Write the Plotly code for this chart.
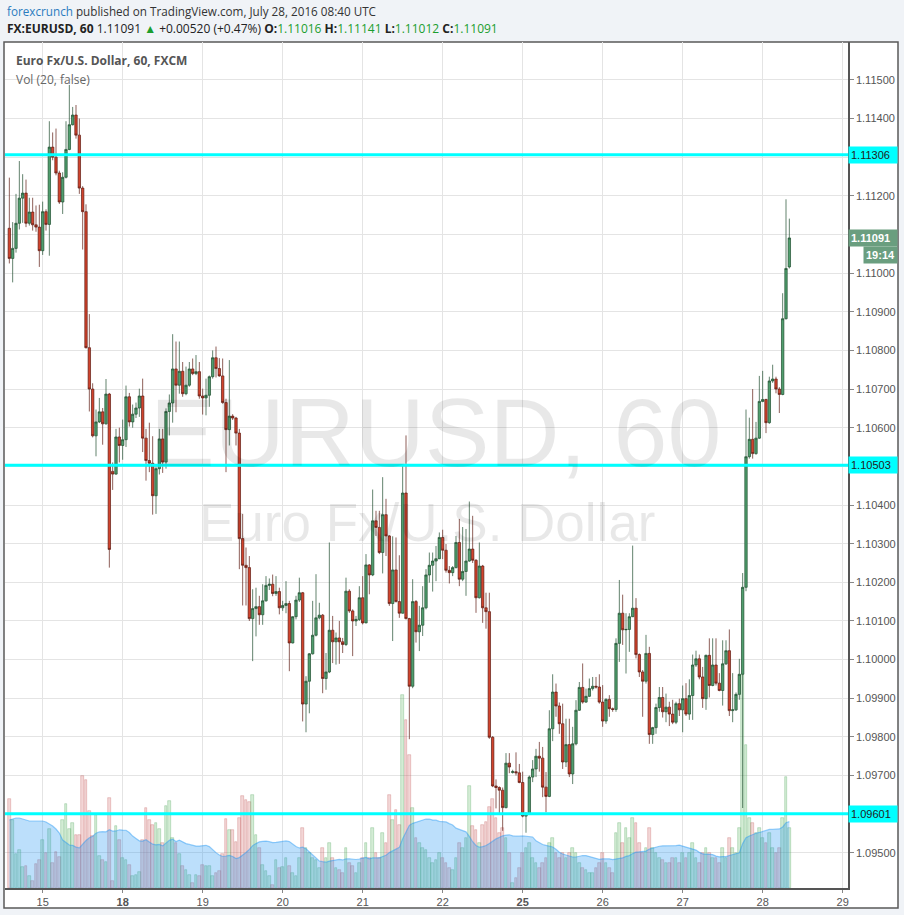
import plotly.graph_objects as go
from datetime import datetime, timedelta

# ---------------- data (EURUSD 60-minute, FXCM) ----------------
# prices are stored as pips above 1.10000
BASE = 1.10000
open_pips = [
    111.6, 103.8, 106.4, 112.9, 119.4, 120.7, 112.9, 115.8, 112.5, 111.9,
    105.8, 115.9, 112.6, 132.6, 130.0, 125.9, 118.4, 124.8, 132.0, 138.4,
    140.9, 135.7, 122.0, 115.9, 80.7, 70.0, 57.9, 61.5, 64.1, 61.0,
    68.7, 48.7, 48.0, 57.6, 55.4, 56.9, 68.0, 61.5, 63.5, 65.1,
    68.2, 57.3, 51.5, 50.8, 42.4, 49.4, 57.1, 51.1, 64.2, 66.4,
    75.2, 71.0, 74.6, 68.8, 71.0, 75.2, 74.0, 74.5, 68.2, 67.7,
    68.4, 73.2, 78.1, 75.3, 73.4, 66.5, 59.5, 63.0, 62.5, 58.6,
    31.3, 24.4, 23.8, 10.6, 13.2, 13.7, 11.6, 15.2, 19.2, 19.5,
    17.1, 17.6, 13.4, 14.0, 14.5, 4.3, 11.1, 15.4, 17.3, -11.5,
    -5.6, 1.5, 6.3, 10.8, 11.5, -4.9, -3.2, 7.6, 4.6, 5.6,
    4.6, 3.9, 17.7, 12.6, 10.0, 10.4, 16.0, 9.5, 24.5, 21.9,
    35.9, 34.2, 27.7, 37.5, 32.0, 14.5, 23.2, 15.0, 12.0, 43.1,
    10.6, -6.9, 15.0, 7.2, 8.9, 13.4, 21.9, 24.4, 25.5, 26.1,
    31.6, 28.3, 23.1, 22.5, 23.8, 30.3, 20.8, 22.8, 25.5, 28.6,
    25.7, 16.0, 24.2, 13.4, 12.4, -20.1, -32.7, -33.1, -33.8, -38.3,
    -26.8, -29.2, -29.0, -29.3, -31.8, -40.5, -39.8, -30.4, -28.3, -25.0,
    -25.5, -33.0, -35.4, -17.9, -8.4, -12.0, -16.6, -26.5, -22.0, -29.6,
    -21.8, -13.1, -7.2, -11.0, -9.5, -7.5, -6.9, -7.1, -11.0, -15.9,
    -10.3, -12.7, -12.9, 4.2, 12.0, 7.7, 7.8, 11.1, 13.3, 1.3,
    -3.2, -5.6, 1.6, -19.4, -17.6, -12.4, -9.8, -13.5, -12.3, -14.1,
    -16.2, -11.4, -13.0, -10.1, -14.1, -9.3, -1.4, 0.2, -4.5, -10.1,
    1.1, -6.7, -1.4, -6.1, -8.0, -1.1, 2.3, -13.2, -13.0, -9.0,
    -3.8, 18.7, 52.5, 57.0, 53.3, 57.3, 66.8, 67.3, 61.3, 72.1,
    72.6, 70.0, 68.6, 88.2, 101.6,
]
high_pips = [
    124.7, 113.2, 120.5, 129.0, 125.6, 124.2, 119.5, 119.5, 117.5, 117.7,
    118.5, 116.5, 139.3, 136.4, 137.4, 126.5, 126.1, 139.3, 148.7, 143.0,
    143.5, 140.0, 122.5, 117.8, 89.4, 71.5, 64.7, 67.7, 65.1, 72.6,
    69.0, 51.0, 59.7, 60.0, 62.1, 70.9, 69.0, 66.0, 66.5, 70.1,
    72.7, 59.7, 61.3, 57.8, 50.0, 59.7, 59.7, 65.0, 68.6, 84.2,
    82.3, 82.3, 77.0, 75.8, 77.0, 77.9, 78.8, 77.0, 70.1, 72.7,
    73.5, 80.0, 81.0, 78.0, 77.9, 67.5, 77.5, 63.5, 62.8, 59.7,
    37.7, 29.0, 26.8, 18.2, 18.6, 16.5, 19.5, 21.6, 21.0, 22.0,
    21.6, 18.6, 15.2, 20.3, 15.2, 11.2, 16.5, 21.2, 17.5, -4.3,
    1.7, 15.2, 22.1, 14.7, 11.8, 1.7, 30.3, 11.3, 7.0, 10.0,
    5.6, 21.2, 18.2, 13.0, 11.3, 19.0, 21.6, 27.3, 24.7, 44.0,
    38.5, 38.5, 47.2, 41.6, 32.2, 31.9, 31.6, 27.0, 50.2, 58.0,
    10.8, 20.8, 15.4, 13.9, 19.0, 23.4, 27.7, 27.7, 29.4, 32.9,
    33.6, 29.9, 24.2, 24.2, 32.0, 36.4, 34.3, 33.8, 40.9, 37.2,
    26.0, 30.3, 24.5, 17.3, 17.3, -19.8, -31.0, -32.8, -33.1, -24.2,
    -24.2, -28.5, -24.0, -27.0, -29.0, -39.5, -30.0, -26.0, -23.1, -21.3,
    -22.6, -29.1, -13.1, -3.8, -6.2, -11.1, -11.4, -15.3, -15.3, -17.4,
    -10.5, -5.8, -1.0, -7.5, -4.9, -4.5, -4.5, -3.8, -6.6, -10.0,
    -9.2, -12.4, 5.5, 20.6, 16.8, 12.0, 12.0, 29.5, 15.9, 1.6,
    -2.7, 6.4, 3.3, -17.4, -11.4, -7.1, -7.1, -8.8, -10.9, -10.4,
    -10.9, -10.1, -6.7, -6.1, -5.1, 1.3, 2.3, 1.3, -1.9, 1.3,
    5.5, 5.5, 5.5, -3.5, 5.0, 5.0, 7.8, -3.5, -8.5, 0.2,
    22.4, 64.7, 62.6, 70.0, 61.5, 73.4, 74.7, 67.5, 73.2, 76.3,
    73.2, 70.5, 94.8, 119.1, 114.1,
]
low_pips = [
    102.5, 97.6, 105.3, 111.3, 113.0, 111.9, 112.3, 111.0, 110.7, 101.6,
    104.7, 111.0, 104.5, 129.2, 125.3, 117.9, 115.3, 124.5, 131.8, 138.2,
    134.8, 120.5, 106.1, 80.5, 64.2, 57.5, 52.6, 61.2, 55.6, 60.8,
    23.8, 43.9, 47.8, 51.0, 51.7, 55.0, 60.3, 60.0, 62.5, 62.8,
    53.7, 46.3, 48.5, 37.5, 37.7, 47.9, 48.3, 49.4, 58.0, 61.3,
    64.0, 68.8, 68.0, 68.4, 70.6, 73.6, 73.6, 67.5, 63.4, 63.2,
    65.4, 72.7, 73.0, 73.2, 66.2, 48.5, 55.4, 62.0, 55.4, 23.4,
    14.0, 14.0, 10.0, -0.4, 6.0, 9.0, 9.0, 15.0, 18.0, 16.4,
    16.5, 11.7, 12.6, 12.0, -3.0, 4.2, 10.4, 14.9, -16.0, -18.8,
    -13.9, 1.3, 6.0, 10.4, -8.7, -7.8, -3.5, -0.9, -1.3, -1.1,
    1.7, 3.5, 12.1, 0.9, 8.7, 10.0, 9.1, 9.4, 16.9, 21.6,
    32.0, 27.3, 22.3, 26.8, 13.9, 4.8, 14.8, 10.8, 11.9, 10.4,
    -20.6, -7.4, 4.4, 2.2, 6.1, 13.0, 19.9, 17.6, 20.3, 26.0,
    26.0, 22.5, 19.7, 21.6, 23.6, 19.0, 20.3, 16.5, 25.3, 25.0,
    12.1, 15.8, 9.5, 8.0, -20.5, -33.0, -38.5, -39.7, -44.3, -38.5,
    -29.4, -29.5, -30.0, -32.0, -40.8, -44.8, -40.0, -31.7, -30.4, -29.0,
    -35.6, -39.5, -35.6, -21.1, -14.8, -19.2, -28.3, -27.8, -30.4, -32.2,
    -22.2, -13.3, -11.4, -11.2, -9.7, -8.0, -7.5, -11.4, -17.4, -16.6,
    -14.8, -13.5, -13.5, -0.6, 3.8, -3.6, 2.0, 11.0, 0.3, -4.5,
    -14.8, -6.2, -21.8, -21.8, -19.2, -13.5, -15.0, -16.2, -17.2, -16.7,
    -16.7, -14.6, -18.8, -14.6, -15.6, -15.6, -1.9, -5.1, -12.5, -13.0,
    -9.8, -6.9, -6.7, -8.2, -11.9, -1.4, -14.6, -16.2, -13.3, -10.4,
    -38.4, 17.7, 52.0, 52.0, 53.0, 57.1, 66.6, 58.6, 61.0, 71.6,
    68.9, 63.8, 68.4, 88.0, 101.2,
]
close_pips = [
    103.8, 106.4, 112.9, 119.4, 120.7, 112.9, 115.8, 112.5, 111.9, 105.8,
    115.9, 112.6, 132.6, 130.0, 125.9, 118.4, 124.8, 132.0, 138.4, 140.9,
    135.7, 122.0, 115.9, 80.7, 70.0, 57.9, 61.5, 64.1, 61.0, 68.7,
    28.5, 48.0, 57.6, 55.4, 56.9, 68.0, 61.5, 63.5, 65.1, 68.2,
    57.3, 51.5, 50.8, 42.4, 49.4, 57.1, 51.1, 64.2, 66.4, 75.2,
    71.0, 74.6, 68.8, 71.0, 75.2, 74.0, 74.5, 68.2, 67.7, 68.4,
    73.2, 78.1, 75.3, 73.4, 66.5, 59.5, 63.0, 62.5, 58.6, 31.3,
    24.4, 23.8, 10.6, 13.2, 13.7, 11.6, 15.2, 19.2, 19.5, 17.1,
    17.6, 13.4, 14.0, 14.5, 4.3, 11.1, 15.4, 17.3, -11.5, -5.6,
    1.5, 6.3, 10.8, 11.5, -4.9, -3.2, 7.6, 4.6, 5.6, 4.6,
    3.9, 17.7, 12.6, 10.0, 10.4, 16.0, 9.5, 24.5, 21.9, 35.9,
    34.2, 27.7, 37.5, 32.0, 14.5, 23.2, 15.0, 12.0, 43.1, 10.6,
    -6.9, 15.0, 7.2, 8.9, 13.4, 21.9, 24.4, 25.5, 26.1, 31.6,
    28.3, 23.1, 22.5, 23.8, 30.3, 20.8, 22.8, 25.5, 28.6, 25.7,
    16.0, 24.2, 13.4, 12.4, -20.1, -32.7, -33.1, -33.8, -38.3, -26.8,
    -27.8, -29.0, -29.3, -31.8, -40.5, -39.8, -30.4, -28.3, -25.0, -25.5,
    -33.0, -35.4, -17.9, -8.4, -12.0, -16.6, -26.5, -22.0, -29.6, -21.8,
    -13.1, -7.2, -11.0, -9.5, -7.5, -6.9, -7.1, -11.0, -15.9, -10.3,
    -12.7, -12.9, 4.2, 12.0, 7.7, 7.8, 11.1, 13.3, 1.3, -3.2,
    -5.6, 1.6, -19.4, -17.6, -12.4, -9.8, -13.5, -12.3, -14.1, -16.2,
    -11.4, -13.0, -10.1, -14.1, -9.3, -1.4, 0.2, -4.5, -10.1, 1.1,
    -6.7, -1.4, -6.1, -8.0, -1.1, 2.3, -13.2, -13.0, -9.0, -3.8,
    18.7, 52.5, 57.0, 53.3, 57.3, 66.8, 67.3, 61.3, 72.1, 72.6,
    70.0, 68.6, 88.2, 101.2, 109.1,
]
# volume (relative units) for each hourly bar
volume = [
    89, 68, 34, 38, 21, 22, 12, 7, 24, 28,
    48, 35, 59, 25, 36, 31, 68, 84, 59, 65,
    53, 53, 112, 108, 77, 52, 73, 32, 28, 26,
    90, 7, 62, 48, 30, 28, 23, 12, 13, 16,
    48, 80, 68, 63, 65, 59, 45, 82, 87, 50,
    45, 34, 22, 18, 13, 5, 13, 12, 23, 22,
    22, 12, 15, 17, 34, 69, 58, 58, 46, 70,
    92, 88, 86, 93, 53, 40, 23, 17, 12, 3,
    28, 20, 21, 30, 22, 15, 12,
    30, 60, 40, 35, 30, 28, 20, 40, 30, 45, 30, 20, 18, 15, 40, 25, 22, 15, 25, 30, 45, 30, 60, 35, 30,
    55, 45, 93, 68, 78, 63, 193, 168, 133, 80, 50,
    45, 40, 38, 30, 25, 28, 35, 30, 25, 20, 18, 30, 45, 40, 50,
    102, 62, 58, 45, 63, 66, 81, 89, 70, 55, 60, 50, 35,
    5, 10, 20, 35, 40, 45, 30, 25, 20, 25, 30, 45, 50, 35, 30, 35, 30, 35, 40, 35,
    25, 20, 18, 15, 15, 20, 25, 35, 25, 20, 15,
    55, 65, 45, 60, 50, 70, 65, 45, 35, 40, 60, 40, 35, 30,
    28, 25, 25, 30, 30, 25, 35, 30, 35, 45, 30, 25, 35, 40, 35, 30, 30, 25, 40, 30, 50, 40, 35, 60,
    213, 143, 70, 65, 55, 60, 50, 45, 55, 40, 35, 40, 70, 111, 60,
]
# 20-bar volume average for the first bars (its window starts before the chart)
vol_ma_head = [68, 69, 70, 70, 69, 68, 67, 67, 67, 67, 67, 66, 64, 62, 59, 55, 48, 45, 43]
MA_LEN = 20

levels = [1.11306, 1.10503, 1.09601]
header_change = "+0.00520 (+0.47%)"
countdown = "19:14"

n = len(close_pips)
assert len(open_pips) == n and len(high_pips) == n and len(low_pips) == n and len(volume) == n, \
    (len(open_pips), len(high_pips), len(low_pips), len(close_pips), len(volume))

def to_price(p):
    return round(BASE + p / 10000.0, 5)

O = [to_price(v) for v in open_pips]
H = [to_price(v) for v in high_pips]
L = [to_price(v) for v in low_pips]
C = [to_price(v) for v in close_pips]

# hourly trading timestamps (FX market closed Fri 21:00 -> Sun 21:00 UTC)
def trading_hours(start, count):
    out, t = [], start
    while len(out) < count:
        wd, h = t.weekday(), t.hour
        closed = (wd == 4 and h >= 21) or wd == 5 or (wd == 6 and h < 21)
        if not closed:
            out.append(t)
        t += timedelta(hours=1)
    return out

times = trading_hours(datetime(2016, 7, 14, 14), n)
idx = list(range(n))
tick_idx = [i for i, t in enumerate(times) if t.hour == 0]
tick_days = [times[i] for i in tick_idx]
tick_idx.append(tick_idx[-1] + 24)
tick_days.append(tick_days[-1] + timedelta(days=1))
tick_text = [("<b>%d</b>" % d.day) if d.weekday() == 0 else str(d.day) for d in tick_days]

# volume moving average
vol_ma = []
for i in range(n):
    if i < MA_LEN - 1:
        vol_ma.append(vol_ma_head[i])
    else:
        vol_ma.append(sum(volume[i - MA_LEN + 1:i + 1]) / MA_LEN)

up = [C[i] >= O[i] for i in range(n)]
vol_colors = ["rgba(76,175,80,0.24)" if u else "rgba(205,85,85,0.24)" for u in up]
vol_lines = ["rgba(76,160,90,0.5)" if u else "rgba(190,90,90,0.5)" for u in up]

# price scale ticks; labels hidden where a price tag covers them
PRICE_TOP = 1.11598
PRICE_BOT = 1.09409
price_ticks = [round(1.095 + 0.001 * k, 3) for k in range(21)]
tagged = levels + [C[-1]]
price_text = ["" if any(abs(t - g) < 0.00015 for g in tagged) else "%.5f" % t for t in price_ticks]

# ---------------- figure ----------------
W, Hh = 904, 915
ML, MR, MT, MB = 5, 56, 42, 27
PW, PH = W - ML - MR, Hh - MT - MB

def px_x(x):
    return (x - ML) / PW

def px_y(y):
    return (Hh - MB - y) / PH

fig = go.Figure()

fig.add_trace(go.Bar(
    x=idx, y=volume, width=0.78, yaxis="y",
    marker=dict(color=vol_colors, line=dict(color=vol_lines, width=0.6)),
    hoverinfo="skip", showlegend=False,
))
fig.add_trace(go.Scatter(
    x=idx, y=vol_ma, yaxis="y", mode="lines", fill="tozeroy",
    line=dict(color="rgba(33,150,243,0.45)", width=1.2),
    fillcolor="rgba(33,150,243,0.30)", hoverinfo="skip", showlegend=False,
))
fig.add_trace(go.Candlestick(
    x=idx, open=O, high=H, low=L, close=C, yaxis="y2",
    increasing=dict(line=dict(color="#1f4e2f", width=0.7), fillcolor="#4f9e6d"),
    decreasing=dict(line=dict(color="#5e1b12", width=0.7), fillcolor="#d2432c"),
    whiskerwidth=0, hoverinfo="skip", showlegend=False,
))

shapes = [
    dict(type="rect", xref="paper", yref="paper",
         x0=px_x(4), x1=px_x(898), y0=px_y(908), y1=px_y(42),
         fillcolor="white", line=dict(color="#5a5a5a", width=1.5), layer="below"),
]
for lv in levels:
    shapes.append(dict(type="line", xref="paper", yref="y2", x0=0, x1=1, y0=lv, y1=lv,
                       line=dict(color="#00ffff", width=3), layer="above"))

font_ui = "Open Sans, Noto Sans, sans-serif"
font_ax = "Liberation Sans, Arial, sans-serif"
green_txt = "#1b9e2e"

annotations = [
    dict(xref="paper", yref="paper", x=px_x(5), y=px_y(11), xanchor="left", yanchor="middle",
         showarrow=False, font=dict(family=font_ui, size=11.7, color="#333333"),
         text="<span style='color:#2b7cbf'>forexcrunch</span> published on TradingView.com, July 28, 2016 08:40 UTC"),
    dict(xref="paper", yref="paper", x=px_x(5), y=px_y(29), xanchor="left", yanchor="middle",
         showarrow=False, font=dict(family=font_ui, size=12, color="#222222"),
         text=("<b>FX:EURUSD, 60</b> %.5f <span style='color:%s'>▲</span> %s "
               "<b>O:</b><span style='color:%s'>%.5f</span> <b>H:</b><span style='color:%s'>%.5f</span> "
               "<b>L:</b><span style='color:%s'>%.5f</span> <b>C:</b><span style='color:%s'>%.5f</span>")
              % (C[-1], green_txt, header_change, green_txt, O[-1], green_txt, H[-1],
                 green_txt, L[-1], green_txt, C[-1])),
    dict(xref="paper", yref="paper", x=px_x(14), y=px_y(61), xanchor="left", yanchor="middle",
         showarrow=False, font=dict(family=font_ui, size=12, color="#555555"),
         text="<b>Euro Fx/U.S. Dollar, 60, FXCM</b>"),
    dict(xref="paper", yref="paper", x=px_x(14), y=px_y(79), xanchor="left", yanchor="middle",
         showarrow=False, font=dict(family=font_ui, size=12, color="#666666"),
         text="Vol (20, false)"),
    # watermark
    dict(xref="paper", yref="paper", x=px_x(435), y=px_y(432), xanchor="center", yanchor="middle",
         showarrow=False, font=dict(family=font_ax, size=97, color="rgba(0,0,0,0.09)"),
         text="EURUSD, 60"),
    dict(xref="paper", yref="paper", x=px_x(427), y=px_y(522), xanchor="center", yanchor="middle",
         showarrow=False, font=dict(family=font_ax, size=53, color="rgba(0,0,0,0.09)"),
         text="Euro Fx/U.S. Dollar"),
]
for lv in levels:
    annotations.append(dict(
        xref="paper", yref="y2", x=1, y=lv, xanchor="left", yanchor="middle", showarrow=False,
        text="%.5f" % lv, bgcolor="#00ffff", borderpad=2, width=44, align="left",
        font=dict(family=font_ax, size=11, color="#222222")))
annotations.append(dict(
    xref="paper", yref="y2", x=1, y=C[-1], xanchor="left", yanchor="middle", showarrow=False,
    text="<b>%.5f</b>" % C[-1], bgcolor="#6a9e7f", borderpad=2, width=44, align="left",
    font=dict(family=font_ax, size=11, color="white")))
annotations.append(dict(
    xref="paper", yref="y2", x=px_x(898), y=C[-1], yshift=-17, xanchor="right", yanchor="middle",
    showarrow=False, text="<b>%s</b>" % countdown, bgcolor="#6a9e7f", borderpad=2,
    font=dict(family=font_ax, size=11, color="white")))

fig.update_layout(
    width=W, height=Hh,
    margin=dict(l=ML, r=MR, t=MT, b=MB, pad=0),
    paper_bgcolor="#f0f3f7", plot_bgcolor="white",
    showlegend=False, hovermode=False, bargap=0, boxgap=0.28, boxgroupgap=0,
    shapes=shapes, annotations=annotations,
    xaxis=dict(
        range=[-1.3, 251.6], tickmode="array", tickvals=tick_idx, ticktext=tick_text,
        showgrid=True, gridcolor="#e4e4e4", gridwidth=1, zeroline=False,
        showline=True, linecolor="#555555", linewidth=1.5,
        ticks="outside", ticklen=3, tickcolor="#888888",
        tickfont=dict(family=font_ax, size=11, color="#555555"),
        rangeslider=dict(visible=False), fixedrange=True,
    ),
    yaxis=dict(range=[0, PH], visible=False, showgrid=False, zeroline=False, fixedrange=True),
    yaxis2=dict(
        overlaying="y", side="right", range=[PRICE_BOT, PRICE_TOP],
        tickmode="array", tickvals=price_ticks, ticktext=price_text,
        showgrid=True, gridcolor="#e4e4e4", gridwidth=1, zeroline=False,
        showline=True, linecolor="#555555", linewidth=1.5,
        ticks="outside", ticklen=4, tickcolor="#888888",
        tickfont=dict(family=font_ax, size=11, color="#555555"), fixedrange=True,
    ),
)

fig.write_html(
    "out.html",
    config={"displayModeBar": False},
    post_script=("document.body.style.margin='0';document.body.style.padding='0';"
                 "document.body.style.overflow='hidden';"
                 "document.documentElement.style.overflow='hidden';"),
)
